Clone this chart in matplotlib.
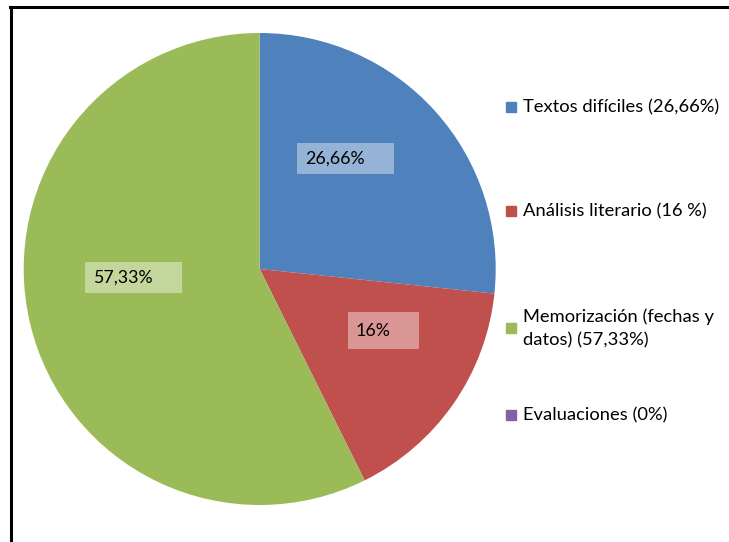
import numpy as np
import matplotlib.pyplot as plt
from matplotlib.patches import Rectangle

plt.rcParams['font.family'] = ['Lato', 'DejaVu Sans']

categories = ['Textos difíciles (26,66%)', 'Análisis literario (16 %)',
              'Memorización (fechas y\ndatos) (57,33%)', 'Evaluaciones (0%)']
values = [26.66, 16, 57.33, 0]
slice_labels = ['26,66%', '16%', '57,33%', '']
colors = ['#4F81BD', '#C0504D', '#9BBB59', '#8064A2']
box_colors = ['#95B3D7', '#D99694', '#C3D69B', '#B3A2C7']

W, H = 729, 542
fig = plt.figure(figsize=(W / 100, H / 100), dpi=100)

# pie centre and radius in pixels
cx, cy, r = 259.7, 269, 236
ax = fig.add_axes([(cx - r) / W, (H - cy - r) / H, 2 * r / W, 2 * r / H])
ax.pie(values, colors=colors, startangle=90, counterclock=False,
       wedgeprops=dict(linewidth=0))
ax.set_xlim(-1, 1)
ax.set_ylim(-1, 1)
ax.set_aspect('auto')


def to_data(px, py):
    return (px - cx) / r, (cy - py) / r


# label boxes (pixel boxes: left, top, right, bottom)
boxes = [(297, 143, 394, 174), (348, 312, 419, 349), (85, 262, 182, 293)]
for i, (l, t, rr, b) in enumerate(boxes):
    x0, y1 = to_data(l, t)
    x1, y0 = to_data(rr, b)
    ax.add_patch(Rectangle((x0, y0), x1 - x0, y1 - y0, color=box_colors[i], lw=0))
    tx, ty = to_data(l + 8, (t + b) / 2)
    ax.text(tx, ty, slice_labels[i], ha='left', va='center', fontsize=12.8, color='black')

# legend
leg_y = [107, 211, 328, 415]
for lab, col, y in zip(categories, colors, leg_y):
    fig.patches.append(Rectangle((506 / W, 1 - (y + 5) / H), 10 / W, 10 / H,
                                 color=col, transform=fig.transFigure, figure=fig))
    fig.text(523 / W, 1 - y / H, lab, ha='left', va='center', fontsize=13.2,
             linespacing=1.55, color='black')

# chart frame (only left and top visible)
fig.add_artist(plt.Line2D([11 / W, 11 / W], [-0.02, 1 - 6.5 / H], color='black', lw=2.2))
fig.add_artist(plt.Line2D([10 / W, 1.02], [1 - 6.5 / H, 1 - 6.5 / H], color='black', lw=2.2))

fig.savefig('out.png', dpi=100)
